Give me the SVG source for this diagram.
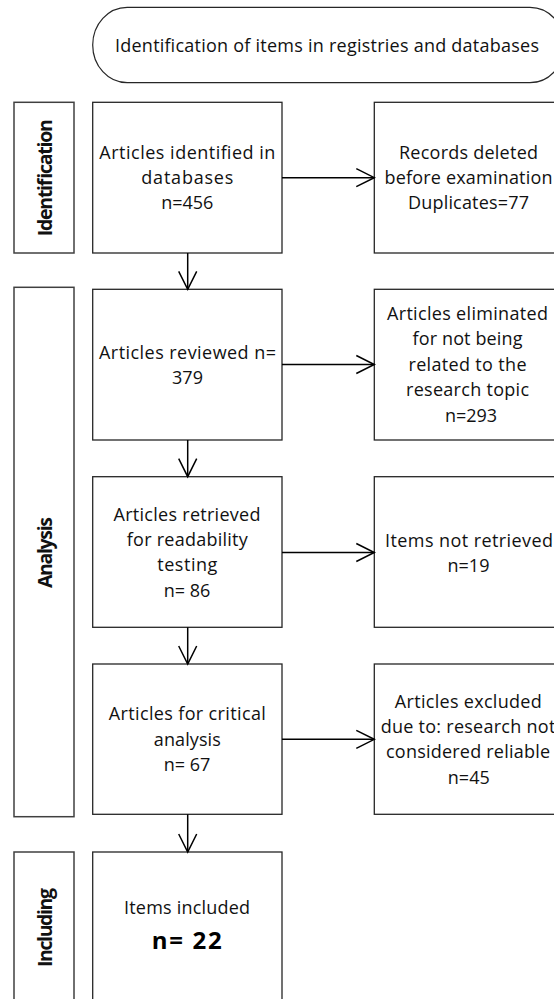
<svg xmlns="http://www.w3.org/2000/svg" width="554" height="999" viewBox="0 0 554 999">
<style>
.box{fill:#fff;stroke:#262626;stroke-width:1.3}
.lab{fill:#fff;stroke:#404040;stroke-width:1.5}
.t{font-family:"Open Sans","Liberation Sans",sans-serif;font-size:18px;fill:#111;text-anchor:middle}
.b{font-family:"Open Sans","Liberation Sans",sans-serif;font-size:19.5px;font-weight:bold;fill:#111;text-anchor:middle}
.big{font-family:"Open Sans","Liberation Sans",sans-serif;font-size:24px;font-weight:bold;fill:#000;text-anchor:middle}
.c{fill:none;stroke:#000;stroke-width:1.5}
</style>
<defs>
<marker id="ah" markerUnits="userSpaceOnUse" markerWidth="24" markerHeight="24" viewBox="-20 -12 24 24" refX="0" refY="0" orient="auto">
<path d="M-18,-9 L0,0 L-18,9" fill="none" stroke="#000" stroke-width="1.5"/>
</marker>
</defs>
<rect width="554" height="999" fill="#fff"/>

<g id="title">
<rect x="92.7" y="7.3" width="471.8" height="75.4" rx="34.5" ry="37.7" fill="#fff" stroke="#262626" stroke-width="1.2"/>
<text class="t" x="327" y="52" textLength="424" lengthAdjust="spacing">Identification of items in registries and databases</text>
</g>

<g id="lab-identification">
<rect class="lab" x="14" y="102.3" width="60" height="150.7"/>
<text class="b" transform="translate(51.5,177.7) rotate(-90)" x="0" y="0" textLength="117" lengthAdjust="spacing">Identification</text>
</g>
<g id="lab-analysis">
<rect class="lab" x="14" y="287.3" width="60" height="529.4"/>
<text class="b" transform="translate(51.5,552.5) rotate(-90)" x="0" y="0" textLength="71" lengthAdjust="spacing">Analysis</text>
</g>
<g id="lab-including">
<rect class="lab" x="14" y="852" width="60" height="160"/>
<text class="b" transform="translate(51.5,927.5) rotate(-90)" x="0" y="0" textLength="79" lengthAdjust="spacing">Including</text>
</g>

<g id="n1">
<rect class="box" x="92.7" y="102.3" width="189.3" height="150.7"/>
<text class="t" x="187.3" y="159" textLength="176" lengthAdjust="spacing">Articles identified in</text>
<text class="t" x="187.3" y="184" textLength="92" lengthAdjust="spacing">databases</text>
<text class="t" x="187.3" y="208.5">n=456</text>
</g>
<g id="r1">
<rect class="box" x="374.3" y="102.3" width="188.7" height="150.7"/>
<text class="t" x="468.5" y="159" textLength="139" lengthAdjust="spacing">Records deleted</text>
<text class="t" x="468.5" y="183.5" textLength="168" lengthAdjust="spacing">before examination</text>
<text class="t" x="468.5" y="208.5" textLength="121" lengthAdjust="spacing">Duplicates=77</text>
</g>

<g id="n2">
<rect class="box" x="92.7" y="289.3" width="189.3" height="150.7"/>
<text class="t" x="187.5" y="359" textLength="177" lengthAdjust="spacing">Articles reviewed n=</text>
<text class="t" x="187.5" y="384">379</text>
</g>
<g id="r2">
<rect class="box" x="374.3" y="289.3" width="188.7" height="150.7"/>
<text class="t" x="467.5" y="319.5" textLength="161" lengthAdjust="spacing">Articles eliminated</text>
<text class="t" x="467.5" y="345" textLength="110" lengthAdjust="spacing">for not being</text>
<text class="t" x="467.5" y="370.5" textLength="118" lengthAdjust="spacing">related to the</text>
<text class="t" x="467.5" y="396" textLength="123" lengthAdjust="spacing">research topic</text>
<text class="t" x="471" y="421.5">n=293</text>
</g>

<g id="n3">
<rect class="box" x="92.7" y="476.7" width="189.3" height="150.6"/>
<text class="t" x="187" y="520.5" textLength="147" lengthAdjust="spacing">Articles retrieved</text>
<text class="t" x="187.3" y="545.5" textLength="121" lengthAdjust="spacing">for readability</text>
<text class="t" x="187.3" y="571" textLength="60" lengthAdjust="spacing">testing</text>
<text class="t" x="187" y="596.5">n= 86</text>
</g>
<g id="r3">
<rect class="box" x="374.3" y="476.7" width="188.7" height="150.6"/>
<text class="t" x="469" y="546.5" textLength="168" lengthAdjust="spacing">Items not retrieved</text>
<text class="t" x="468.5" y="571.5">n=19</text>
</g>

<g id="n4">
<rect class="box" x="92.7" y="664" width="189.3" height="150.3"/>
<text class="t" x="187.3" y="720" textLength="157" lengthAdjust="spacing">Articles for critical</text>
<text class="t" x="187.3" y="745.5" textLength="67" lengthAdjust="spacing">analysis</text>
<text class="t" x="187" y="770.5">n= 67</text>
</g>
<g id="r4">
<rect class="box" x="374.3" y="664" width="188.7" height="150.3"/>
<text class="t" x="468.3" y="708" textLength="147" lengthAdjust="spacing">Articles excluded</text>
<text class="t" x="468" y="733" textLength="174.6" lengthAdjust="spacing">due to: research not</text>
<text class="t" x="468" y="758" textLength="164" lengthAdjust="spacing">considered reliable</text>
<text class="t" x="468.8" y="783.5">n=45</text>
</g>

<g id="n5">
<rect class="box" x="92.7" y="852" width="189.3" height="160"/>
<text class="t" x="187" y="914" textLength="126" lengthAdjust="spacing">Items included</text>
<text class="big" x="186.7" y="949" textLength="70" lengthAdjust="spacing">n= 22</text>
</g>

<g id="connectors">
<line class="c" x1="282" y1="177.7" x2="374.3" y2="177.7" marker-end="url(#ah)"/>
<line class="c" x1="282" y1="364.5" x2="374.3" y2="364.5" marker-end="url(#ah)"/>
<line class="c" x1="282" y1="552.5" x2="374.3" y2="552.5" marker-end="url(#ah)"/>
<line class="c" x1="282" y1="739.3" x2="374.3" y2="739.3" marker-end="url(#ah)"/>
<line class="c" x1="187.7" y1="253" x2="187.7" y2="289.3" marker-end="url(#ah)"/>
<line class="c" x1="187.7" y1="440" x2="187.7" y2="476.7" marker-end="url(#ah)"/>
<line class="c" x1="187.7" y1="627.3" x2="187.7" y2="664" marker-end="url(#ah)"/>
<line class="c" x1="187.7" y1="814.3" x2="187.7" y2="852" marker-end="url(#ah)"/>
</g>
</svg>
